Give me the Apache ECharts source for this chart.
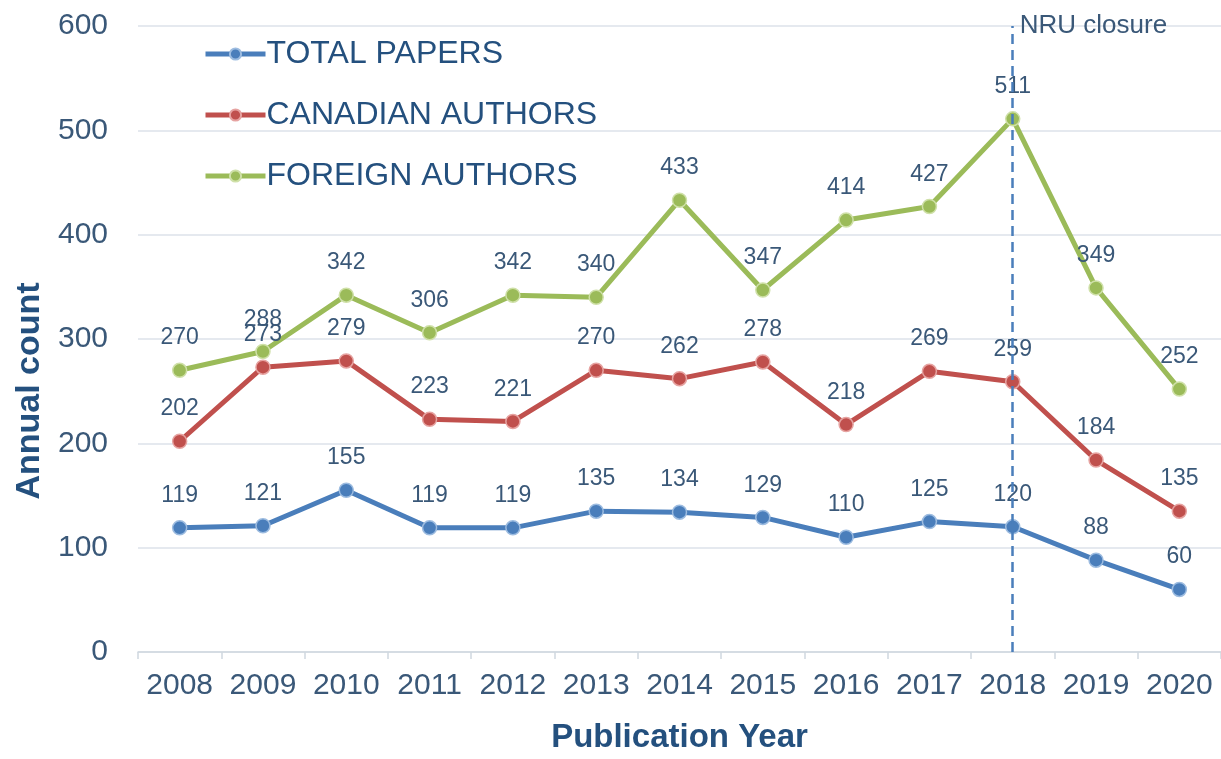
<!DOCTYPE html>
<html>
<head>
<meta charset="utf-8">
<script src="https://cdn.jsdelivr.net/npm/echarts@6/dist/echarts.min.js"></script>
<style>
html,body{margin:0;padding:0;background:#fff;}
#chart{width:1221px;height:759px;}
</style>
</head>
<body>
<div id="chart"></div>
<script>
const years = ['2008','2009','2010','2011','2012','2013','2014','2015','2016','2017','2018','2019','2020'];
const totalPapers = [119,121,155,119,119,135,134,129,110,125,120,88,60];
const canadianAuthors = [202,273,279,223,221,270,262,278,218,269,259,184,135];
const foreignAuthors = [270,288,342,306,342,340,433,347,414,427,511,349,252];
const yTicks = [0,100,200,300,400,500,600];
const closureYear = '2018';

const txt = '#3A5878';
const title = '#24507E';
const font = 'Liberation Sans, Arial, sans-serif';

function mkSeries(name, data, color, borderColor, extra) {
  return Object.assign({
    name: name, type: 'line', data: data,
    symbol: 'circle', symbolSize: 14,
    lineStyle: { color: color, width: 5 },
    itemStyle: { color: color, borderColor: borderColor, borderWidth: 1.5 },
    label: { show: true, position: 'top', distance: 13, color: txt, fontSize: 23, fontFamily: font },
    emphasis: { disabled: true },
    z: 3
  }, extra || {});
}

const chart = echarts.init(document.getElementById('chart'));
chart.setOption({
  animation: false,
  backgroundColor: '#ffffff',
  textStyle: { fontFamily: font },
  grid: { left: 138, right: 0, top: 26, bottom: 100, containLabel: false },
  legend: {
    orient: 'vertical', left: 198, top: 33, itemGap: 29,
    itemWidth: 60, itemHeight: 14,
    lineStyle: { width: 5 },
    textStyle: { color: title, fontSize: 32, fontFamily: font, padding: [0,0,0,-4] },
    data: ['TOTAL PAPERS','CANADIAN AUTHORS','FOREIGN AUTHORS']
  },
  xAxis: {
    type: 'category', data: years, boundaryGap: true,
    name: 'Publication Year', nameLocation: 'middle', nameGap: 69,
    nameTextStyle: { color: title, fontSize: 33, fontWeight: 'bold', fontFamily: font },
    axisLine: { lineStyle: { color: '#D0D7E0', width: 1.5 } },
    axisTick: { show: true, interval: 0, length: 7, lineStyle: { color: '#D0D7E0', width: 1.5 } },
    axisLabel: { color: txt, fontSize: 30, margin: 19, interval: 0, fontFamily: font }
  },
  yAxis: {
    type: 'value', min: yTicks[0], max: yTicks[yTicks.length-1], interval: 100,
    name: 'Annual count', nameLocation: 'middle', nameGap: 91,
    nameTextStyle: { color: title, fontSize: 34, fontWeight: 'bold', fontFamily: font, padding: [0, 104, 0, 0] },
    axisLine: { show: false }, axisTick: { show: false },
    axisLabel: { color: txt, fontSize: 30, margin: 30, fontFamily: font },
    splitLine: { lineStyle: { color: '#DCE2EA', width: 1.5 } }
  },
  series: [
    mkSeries('TOTAL PAPERS', totalPapers, '#4A7EBB', '#9DBCE0', {
      markLine: {
        silent: true, symbol: ['none','none'], z: 5,
        lineStyle: { color: '#4A7EBB', type: [10,6], width: 2.5 },
        label: { show: false },
        data: [{ xAxis: closureYear }]
      }
    }),
    mkSeries('CANADIAN AUTHORS', canadianAuthors, '#C0504D', '#E6A3A1'),
    mkSeries('FOREIGN AUTHORS', foreignAuthors, '#9BBB59', '#CFE0A8')
  ]
});

const p = chart.convertToPixel({ xAxisIndex: 0, yAxisIndex: 0 }, [closureYear, 600]);
chart.setOption({
  graphic: [{
    type: 'text', left: p[0] + 7, top: p[1] - 13,
    style: { text: 'NRU closure', fill: txt, fontSize: 26, fontFamily: font }
  }]
});
</script>
</body>
</html>
